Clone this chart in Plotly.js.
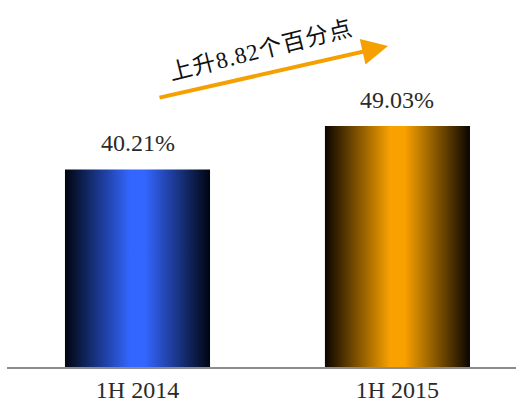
<!DOCTYPE html>
<html>
<head>
<meta charset="utf-8">
<script src="https://cdn.plot.ly/plotly-3.0.1.min.js"></script>
<style>html,body{margin:0;padding:0;background:#fff;}#chart{width:516px;height:408px;}</style>
</head>
<body>
<div id="chart"></div>
<script>
const categories = ["1H 2014", "1H 2015"];
const values = [40.21, 49.03];
const valueLabels = ["40.21%", "49.03%"];
const barColors = ["#3366FF", "#F9A100"];
const barEdgeColors = ["#000510", "#0a0500"];
const changeText = "上升8.82个百分点";

const serif = "Liberation Serif";
const serifCJK = "Liberation Serif, Noto Sans CJK SC";

const trace = {
  type: "bar",
  x: categories,
  y: values,
  width: 0.558,
  marker: {color: barColors, line: {width: 0}},
  hoverinfo: "none"
};

const annotations = categories.map((c, i) => ({
  x: c, y: values[i], xref: "x", yref: "y",
  text: valueLabels[i], showarrow: false,
  yanchor: "bottom", yshift: 11,
  font: {family: serif, size: 24, color: "#2a2a2a"}
}));

annotations.push({
  xref: "paper", yref: "paper",
  x: (388 - 7) / 509, y: 1 - 46 / 367,
  ax: -230, ay: 52,
  showarrow: true, arrowhead: 2, arrowsize: 1.3, arrowwidth: 4,
  arrowcolor: "#F5A000", text: ""
});

annotations.push({
  xref: "paper", yref: "paper",
  x: (261 - 7) / 509, y: 1 - 51 / 367,
  xanchor: "center", yanchor: "middle",
  text: changeText, showarrow: false, textangle: -14,
  font: {family: serifCJK, size: 23, color: "#111"}
});

const layout = {
  width: 516, height: 408,
  margin: {l: 7, r: 0, t: 0, b: 41},
  paper_bgcolor: "#fff", plot_bgcolor: "#fff",
  showlegend: false,
  xaxis: {
    type: "category",
    range: [-0.502, 1.456],
    showline: true, linecolor: "#8c8c8c", linewidth: 2,
    ticks: "", showgrid: false, zeroline: false,
    tickfont: {family: serif, size: 24, color: "#2a2a2a"}
  },
  yaxis: {
    range: [0, 74.7],
    visible: false, showgrid: false, zeroline: false
  },
  annotations: annotations
};

const gd = document.getElementById("chart");
Plotly.newPlot(gd, [trace], layout, {staticPlot: true, displayModeBar: false}).then(() => {
  const svg = gd.querySelector("svg.main-svg");
  const ns = "http://www.w3.org/2000/svg";
  let defs = svg.querySelector("defs");
  if (!defs) { defs = document.createElementNS(ns, "defs"); svg.insertBefore(defs, svg.firstChild); }
  barColors.forEach((col, i) => {
    const g = document.createElementNS(ns, "linearGradient");
    g.setAttribute("id", "barGrad" + i);
    g.setAttribute("x1", "0"); g.setAttribute("x2", "1");
    g.setAttribute("y1", "0"); g.setAttribute("y2", "0");
    const stops = [[0, barEdgeColors[i]], [0.45, col], [0.55, col], [1, barEdgeColors[i]]];
    stops.forEach(s => {
      const st = document.createElementNS(ns, "stop");
      st.setAttribute("offset", s[0]);
      st.setAttribute("stop-color", s[1]);
      g.appendChild(st);
    });
    defs.appendChild(g);
  });
  gd.querySelectorAll(".trace.bars .point path").forEach((p, i) => {
    p.style.fill = "url(#barGrad" + i + ")";
  });
  gd.querySelectorAll(".annotation-text").forEach(t => {
    if (t.textContent === changeText) {
      t.style.letterSpacing = "1px";
    }
  });
});
</script>
</body>
</html>
